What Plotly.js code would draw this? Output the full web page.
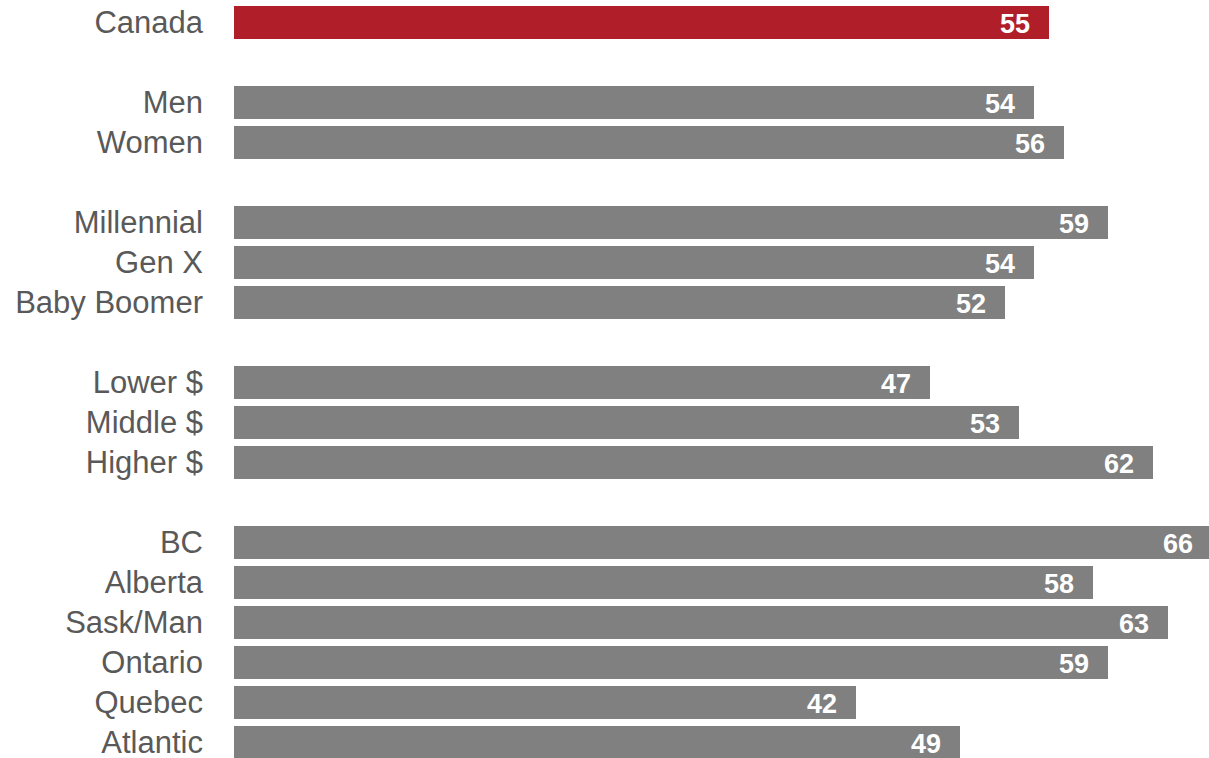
<!DOCTYPE html>
<html>
<head>
<meta charset="utf-8">
<script src="https://cdn.plot.ly/plotly-3.0.1.min.js"></script>
<style>html,body{margin:0;padding:0;background:#fff;overflow:hidden;}#chart{width:1212px;height:758px;}</style>
</head>
<body>
<div id="chart"></div>
<script>
const categories = ["Canada","Men","Women","Millennial","Gen X","Baby Boomer","Lower $","Middle $","Higher $","BC","Alberta","Sask/Man","Ontario","Quebec","Atlantic"];
const values = [55,54,56,59,54,52,47,53,62,66,58,63,59,42,49];
const slots = [0,2,3,5,6,7,9,10,11,13,14,15,16,17,18];
const colors = categories.map((c,i)=> i===0 ? "#B01F29" : "#808080");

const trace = {
  type: "bar",
  orientation: "h",
  x: values,
  y: slots,
  width: 0.82,
  marker: {color: colors},
  hoverinfo: "none"
};

const annotations = values.map((v,i)=>({
  x: v, y: slots[i], xref: "x", yref: "y",
  text: "<b>" + v + "</b>", showarrow: false,
  xanchor: "right", yanchor: "middle", xshift: -17, yshift: -1,
  font: {family: "Liberation Sans, Arial, sans-serif", size: 27, color: "#ffffff"}
}));

const layout = {
  width: 1212, height: 758,
  margin: {l: 234, r: 0, t: 0, b: 0, pad: 0},
  paper_bgcolor: "#ffffff", plot_bgcolor: "#ffffff",
  showlegend: false,
  bargap: 0,
  xaxis: {range: [0, 66], visible: false, fixedrange: true},
  yaxis: {
    range: [18.3875, -0.5625],
    tickvals: slots, ticktext: categories,
    showgrid: false, zeroline: false, showline: false, ticks: "",
    ticklabelstandoff: 30,
    ticklabeloverflow: "allow",
    tickfont: {family: "Liberation Sans, Arial, sans-serif", size: 31, color: "#595959"},
    fixedrange: true
  },
  annotations: annotations
};

Plotly.newPlot("chart", [trace], layout, {displayModeBar: false, staticPlot: true});
</script>
</body>
</html>
